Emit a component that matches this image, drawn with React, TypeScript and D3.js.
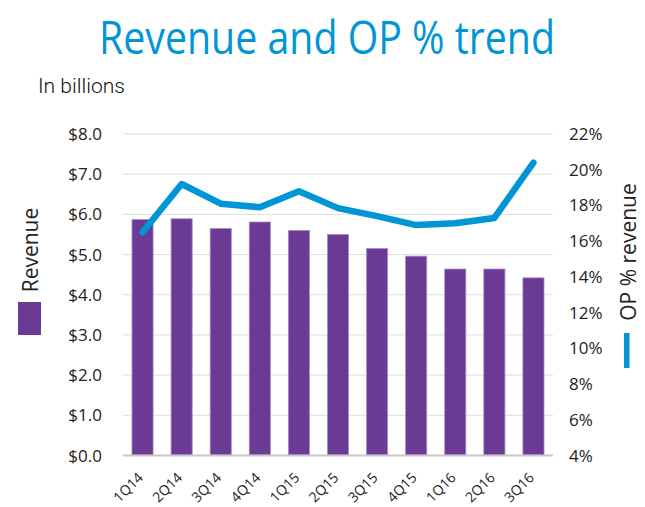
import React from "react";
import * as d3 from "d3";

const quarters = ["1Q14","2Q14","3Q14","4Q14","1Q15","2Q15","3Q15","4Q15","1Q16","2Q16","3Q16"];
const revenue = [5.87, 5.89, 5.65, 5.81, 5.60, 5.50, 5.15, 4.96, 4.64, 4.64, 4.42];
const opPct = [16.5, 19.2, 18.1, 17.9, 18.8, 17.85, 17.4, 16.9, 17.0, 17.3, 20.4];
const leftTicks = [0, 1, 2, 3, 4, 5, 6, 7, 8];
const rightTicks = [4, 6, 8, 10, 12, 14, 16, 18, 20, 22];

const W = 645, H = 507;
const left = 123, right = 553, top = 134, bottom = 455.5;
const PURPLE = "#6a3a94";
const BLUE = "#0096d6";
const FONT = "'Open Sans', sans-serif";

export default function App() {
  const x = d3.scaleBand<string>().domain(quarters).range([left, right]).paddingInner(0.46).paddingOuter(0.23);
  const yL = d3.scaleLinear().domain([0, 8]).range([bottom, top]);
  const yR = d3.scaleLinear().domain([4, 22]).range([bottom, top]);
  const line = d3.line<number>()
    .x((_, i) => (x(quarters[i]) as number) + x.bandwidth() / 2)
    .y((d) => yR(d));

  return (
    <svg width={W} height={H} style={{ position: "absolute", left: 0, top: 0, background: "#fff" }}>
      <text x={327} y={53.5} textAnchor="middle" fill={BLUE} fontFamily="'Open Sans', sans-serif" fontSize={46}
        textLength={456} lengthAdjust="spacingAndGlyphs">Revenue and OP % trend</text>
      <text x={38} y={93} fill="#111" fontFamily="'Roboto', sans-serif" fontWeight={300} fontSize={21}
        textLength={87} lengthAdjust="spacingAndGlyphs">In billions</text>

      {leftTicks.map((t) => (
        <line key={"g" + t} x1={left} x2={right} y1={yL(t)} y2={yL(t)}
          stroke={t === 0 ? "#c8c8c8" : "#dddddd"} strokeWidth={t === 0 ? 2 : 1} />
      ))}
      {leftTicks.map((t) => (
        <text key={"l" + t} x={102} y={yL(t) + 6} textAnchor="end" fontFamily={FONT} fontSize={17} fill="#222">
          {d3.format("$.1f")(t)}
        </text>
      ))}
      {rightTicks.map((t) => (
        <text key={"r" + t} x={569} y={yR(t) + 6} textAnchor="start" fontFamily={FONT} fontSize={17} fill="#222">
          {t + "%"}
        </text>
      ))}

      {revenue.map((v, i) => (
        <rect key={"b" + i} x={x(quarters[i])} y={yL(v)} width={x.bandwidth()} height={yL(0) - yL(v) - 1}
          fill={PURPLE} stroke="#a98cc4" strokeWidth={0.8} />
      ))}

      <path d={line(opPct) || ""} fill="none" stroke={BLUE} strokeWidth={6.5} strokeLinejoin="round" strokeLinecap="round" />

      {quarters.map((q) => {
        const cx = (x(q) as number) + x.bandwidth() / 2 - 2;
        const cy = 475;
        return (
          <text key={"x" + q} transform={`translate(${cx},${cy}) rotate(-45)`} textAnchor="end"
            fontFamily={FONT} fontSize={14} fill="#222" dy="0.35em">{q}</text>
        );
      })}

      <text transform="translate(38,250) rotate(-90)" textAnchor="middle" fontFamily={FONT} fontSize={21} fill="#222">Revenue</text>
      <rect x={18} y={302} width={23} height={33} fill={PURPLE} />

      <text transform="translate(636,252) rotate(-90)" textAnchor="middle" fontFamily={FONT} fontSize={21} fill="#222">OP % revenue</text>
      <rect x={624} y={333} width={5.5} height={35} fill={BLUE} />
    </svg>
  );
}
